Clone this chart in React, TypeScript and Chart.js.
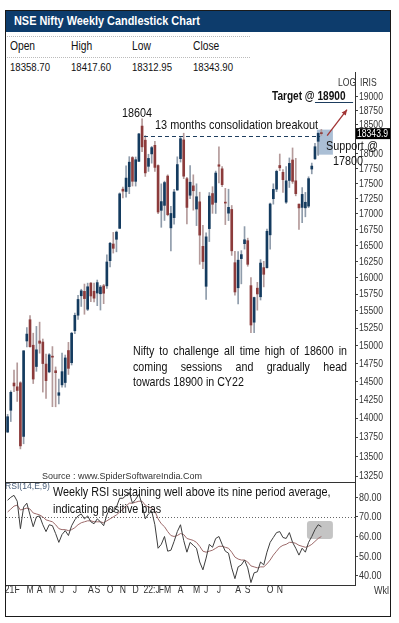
import React, { useEffect, useRef } from "react";
import { Chart, registerables } from "chart.js";
Chart.register(...registerables);

const SANS = "'Liberation Sans', Arial, sans-serif";
const SQUEEZE = 0.82; // Arial-Narrow-like width

// ---- data ----
const weeks = [
  "01-Jan-21","08-Jan-21","15-Jan-21","22-Jan-21","29-Jan-21","05-Feb-21","12-Feb-21","19-Feb-21","26-Feb-21",
  "05-Mar-21","12-Mar-21","19-Mar-21","26-Mar-21","02-Apr-21","09-Apr-21","16-Apr-21","23-Apr-21","30-Apr-21",
  "07-May-21","14-May-21","21-May-21","28-May-21","04-Jun-21","11-Jun-21","18-Jun-21","25-Jun-21","02-Jul-21",
  "09-Jul-21","16-Jul-21","23-Jul-21","30-Jul-21","06-Aug-21","13-Aug-21","20-Aug-21","27-Aug-21","03-Sep-21",
  "10-Sep-21","17-Sep-21","24-Sep-21","01-Oct-21","08-Oct-21","15-Oct-21","22-Oct-21","29-Oct-21","05-Nov-21",
  "12-Nov-21","19-Nov-21","26-Nov-21","03-Dec-21","10-Dec-21","17-Dec-21","24-Dec-21","31-Dec-21","07-Jan-22",
  "14-Jan-22","21-Jan-22","28-Jan-22","04-Feb-22","11-Feb-22","18-Feb-22","25-Feb-22","04-Mar-22","11-Mar-22",
  "18-Mar-22","25-Mar-22","01-Apr-22","08-Apr-22","15-Apr-22","22-Apr-22","29-Apr-22","06-May-22","13-May-22",
  "20-May-22","27-May-22","03-Jun-22","10-Jun-22","17-Jun-22","24-Jun-22","01-Jul-22","08-Jul-22","15-Jul-22",
  "22-Jul-22","29-Jul-22","05-Aug-22","12-Aug-22","19-Aug-22","26-Aug-22","02-Sep-22","09-Sep-22","16-Sep-22",
  "23-Sep-22","30-Sep-22","07-Oct-22","14-Oct-22","21-Oct-22","28-Oct-22","04-Nov-22","11-Nov-22","18-Nov-22",
];
const futureSlots = ["", "", "", "", "", "", "", "", "", ""];

const opens = [
  13815,14104,14474,14422,14477,13758,15064,15371,15003,14703,15064,15049,14737,14628,14837,14644,14306,14449,
  14481,14928,14756,15211,15437,15725,15791,15525,15916,15793,15766,15755,15874,15874,16258,16518,16592,16765,
  17401,17363,17443,17932,17531,17867,18476,18230,17783,17994,18141,17796,17055,17135,17619,16773,16937,17387,
  17913,18235,17575,17301,17456,17076,17193,16481,15867,16761,17329,17183,17809,17741,17183,17009,17069,16227,
  15845,16290,16523,16570,15877,15335,15839,15710,16151,16151,16662,17244,17401,17797,17682,17188,17546,17890,
  17540,17156,17102,17095,17123,17737,17910,18211,18358.7,
];
const highs = [
  14050,14367,14653,14754,14492,14925,15257,15432,15176,15274,15336,15092,14878,14884,14984,14697,14527,14890,
  14864,15044,15189,15469,15733,15823,15901,15915,15925,15915,15962,15882,15897,16350,16543,16701,16722,17340,
  17436,17793,17947,17948,17941,18350,18604,18310,17988,18123,18210,17806,17489,17534,17640,17119,17400,17944,
  18286,18351,17599,17794,17640,17490,17351,16815,16694,17345,17442,17703,18115,17779,17414,17400,17133,16404,
  16400,16414,16793,16610,16000,15707,15927,16275,16248,16752,17172,17490,17719,17992,17726,17777,17925,18096,
  17919,17158,17428,17348,17607,17838,18176,18362,18417.6,
];
const lows = [
  13810,13954,14357,14223,13596,13662,14979,14977,14467,14636,14890,14350,14264,14616,14152,14151,14191,14416,
  14417,14592,14724,15170,15374,15566,15451,15505,15636,15632,15578,15513,15607,15834,16162,16376,16395,16764,
  17255,17269,17327,17453,17452,17865,18033,17613,17697,17836,17696,17000,16782,16891,16966,16410,16833,17383,
  17855,17576,16837,17244,17057,16809,16203,16134,15671,16556,17006,17004,17505,17442,16825,16889,16340,15735,
  15602,15904,16438,16172,15183,15183,15511,15662,15858,16143,16438,17155,17359,17710,17346,17167,17429,17497,
  17291,16748,16856,16950,17098,17656,17900,17969,18312.95,
];
const closes = [
  14018,14347,14434,14372,13635,14924,15163,14982,14529,14938,15031,14744,14507,14867,14834,14617,14341,14631,
  14823,14677,15175,15435,15670,15799,15683,15860,15722,15689,15923,15856,15763,16238,16529,16450,16705,17324,
  17369,17585,17853,17532,17895,18339,18115,17672,17917,18102,17765,17027,17197,17511,16985,17004,17354,17813,
  18256,17617,17102,17516,17375,17276,16658,16245,16630,17287,17153,17670,17784,17476,17172,17103,16411,15782,
  16266,16352,16584,16202,15294,15699,15752,16221,16049,16719,17158,17398,17698,17758,17559,17539,17833,17531,
  17327,17094,17315,17186,17576,17787,18117,18350,18343.9,
];

const rsiValues = [
  78.5,80,81,78,64,75,77,71,65,70,70.5,66,62.5,66,65.5,61.5,57,61,
  63,60.5,65.5,68.5,70.5,71.5,69,70.5,67.5,66.5,69,67.5,65.5,71,74.5,72.5,75,79.5,
  79.5,81,82.5,77,79,81.5,76.5,69,71.5,73,66,54,56,60,52.5,53,57.5,62.5,
  66,58,52,57,55.5,54,47,43,49,56,54.5,59,60,56,52.5,51.5,44,38.5,
  44.5,45.5,48,44,36.5,41.5,42,47,45.5,52,57,59.5,62,62.5,59.5,59,62,57,
  54,50.5,54,52,57,60,63.5,66,65,
];
const rsiAverage = [
  72.5,74,75.5,76,73.5,74,74.5,74,72,71.5,71,70,68.5,68,67.5,66,64,63.5,
  63.5,63,63.5,64.5,66,67,67.5,68,68,67.5,67.5,67.5,67,68,69,70,71,72.5,
  74,75.5,77,77,77.5,78,78,76,75,74.5,73,69,66.5,65,62.5,60.5,60,60.5,
  61.5,61,59,58.5,58,57,55,52.5,52,52.5,53,54,55,55,54.5,54,52,49.5,
  48.5,48,48,47,45,44.5,44,44.5,44.5,46,48,50.5,52.5,54.5,55.5,56,57,57,
  56.5,55.5,55,54.5,55,56,57.5,59,60,
];

const priceTicks = [19000,18750,18500,18000,17750,17500,17250,17000,16750,16500,16250,16000,15750,15500,15250,15000,14750,14500,14250,14000,13750,13500,13250];
const rsiTicks = [40, 50, 60, 70, 80];
const monthTickIdx = [1, 3, 7, 10, 14, 17, 21, 26, 28, 32, 36, 40, 45, 48, 50, 54, 59, 62, 66, 72, 75, 82, 85];
const monthTickText = ["21:", "F", "M", "A", "M", "J", "J", "A", "S", "O", "N", "D", "22:J", "F", "M", "A", "M", "J", "J", "A", "S", "O", "N"];

const lastPrice = 18343.9;
const breakoutLevel = 18310;
const targetLevel = 18900;
const rsiReference = 70;

// annotation geometry in data units (index / value)
const breakoutSpan = [42.6, 97.6];
const supportBox = { from: 96.6, to: 101.6, top: 18414, bottom: 17981 };
const targetSpan = [96.0, 107.9];
const arrowFrom = [99.8, 18309];
const arrowTo = [106.0, 18766];
const rsiBox = { from: 93.5, to: 101.6, top: 67.9, bottom: 58.7 };

const UP_BODY = "#143b5f";
const DOWN_BODY = "#8c3b3b";
const UP_WICK = "#8f9cab";
const DOWN_WICK = "#b49a9a";

function drawSqueezed(ctx: any, text: string, x: number, y: number, size: number, color: string, align: string) {
  ctx.save();
  ctx.font = size + "px " + SANS;
  ctx.fillStyle = color;
  ctx.textBaseline = "middle";
  const w = ctx.measureText(text).width * SQUEEZE;
  const startX = align === "center" ? x - w / 2 : x;
  ctx.translate(startX, y);
  ctx.scale(SQUEEZE, 1);
  ctx.textAlign = "left";
  ctx.fillText(text, 0, 0);
  ctx.restore();
}

function yLabelPlugin(id: string, fmt: (v: number) => string, size: number) {
  return {
    id,
    afterDraw(chart: any) {
      const axis = chart.scales.y;
      axis.ticks.forEach((t: any) => {
        const py = axis.getPixelForValue(t.value);
        drawSqueezed(chart.ctx, fmt(t.value), axis.left + 4, py + 0.5, size, "#333", "left");
      });
    },
  };
}

export default function App() {
  const priceRef = useRef<HTMLCanvasElement>(null);
  const rsiRef = useRef<HTMLCanvasElement>(null);

  useEffect(() => {
    const labels = weeks.concat(futureSlots);
    const isUp = closes.map((c, i) => c >= opens[i]);

    const priceAnno = {
      id: "priceAnno",
      beforeDatasetsDraw(chart: any) {
        const { ctx, scales } = chart;
        const x = scales.x, y = scales.y;
        ctx.save();
        ctx.fillStyle = "rgba(150,175,203,0.8)";
        const x1 = x.getPixelForValue(supportBox.from);
        const x2 = x.getPixelForValue(supportBox.to);
        const y1 = y.getPixelForValue(supportBox.top);
        const y2 = y.getPixelForValue(supportBox.bottom);
        ctx.fillRect(x1, y1, x2 - x1, y2 - y1);
        ctx.restore();
      },
      afterDatasetsDraw(chart: any) {
        const { ctx, scales } = chart;
        const x = scales.x, y = scales.y;
        ctx.save();
        ctx.strokeStyle = "#1d3d5e";
        ctx.lineWidth = 1;
        ctx.setLineDash([4, 3]);
        const by = Math.round(y.getPixelForValue(breakoutLevel)) + 0.5;
        ctx.beginPath();
        ctx.moveTo(x.getPixelForValue(breakoutSpan[0]), by);
        ctx.lineTo(x.getPixelForValue(breakoutSpan[1]), by);
        ctx.stroke();
        ctx.setLineDash([]);
        const ty = Math.round(y.getPixelForValue(targetLevel)) + 0.5;
        ctx.beginPath();
        ctx.moveTo(x.getPixelForValue(targetSpan[0]), ty);
        ctx.lineTo(x.getPixelForValue(targetSpan[1]), ty);
        ctx.stroke();
        const ax1 = x.getPixelForValue(arrowFrom[0]);
        const ay1 = y.getPixelForValue(arrowFrom[1]);
        const ax2 = x.getPixelForValue(arrowTo[0]);
        const ay2 = y.getPixelForValue(arrowTo[1]);
        ctx.strokeStyle = "#a23434";
        ctx.fillStyle = "#a23434";
        ctx.lineWidth = 1.3;
        ctx.beginPath();
        ctx.moveTo(ax1, ay1);
        ctx.lineTo(ax2, ay2);
        ctx.stroke();
        const ang = Math.atan2(ay2 - ay1, ax2 - ax1);
        const hl = 6;
        ctx.beginPath();
        ctx.moveTo(ax2, ay2);
        ctx.lineTo(ax2 - hl * Math.cos(ang - 0.45), ay2 - hl * Math.sin(ang - 0.45));
        ctx.lineTo(ax2 - hl * Math.cos(ang + 0.45), ay2 - hl * Math.sin(ang + 0.45));
        ctx.closePath();
        ctx.fill();
        ctx.restore();
      },
      afterDraw(chart: any) {
        const { ctx, scales, chartArea } = chart;
        const py = scales.y.getPixelForValue(lastPrice);
        ctx.save();
        ctx.fillStyle = "#000";
        ctx.fillRect(chartArea.right + 1, py - 5.5, 34, 11);
        ctx.restore();
        drawSqueezed(ctx, String(lastPrice), chartArea.right + 2, py + 0.5, 10.5, "#fff", "left");
      },
    };

    const price = new Chart(priceRef.current as HTMLCanvasElement, {
      type: "bar",
      data: {
        labels,
        datasets: [
          {
            data: lows.map((l, i) => [l, highs[i]]),
            backgroundColor: isUp.map((u) => (u ? UP_WICK : DOWN_WICK)),
            barThickness: 1,
            grouped: false,
            order: 2,
            borderWidth: 0,
          } as any,
          {
            data: opens.map((o, i) => [o, closes[i]]),
            backgroundColor: isUp.map((u) => (u ? UP_BODY : DOWN_BODY)),
            barThickness: 2,
            grouped: false,
            order: 1,
            minBarLength: 1,
            borderWidth: 0,
          } as any,
        ],
      },
      options: {
        animation: false,
        responsive: false,
        maintainAspectRatio: false,
        layout: { padding: { left: 1, right: 0, top: 0, bottom: 0 } },
        plugins: { legend: { display: false }, tooltip: { enabled: false } },
        scales: {
          x: { display: false, offset: true },
          y: {
            type: "logarithmic",
            position: "right",
            min: 13175,
            max: 19450,
            afterBuildTicks: (axis: any) => {
              axis.ticks = priceTicks.map((v) => ({ value: v }));
            },
            afterFit: (axis: any) => {
              axis.width = 36;
              axis.paddingTop = 0;
              axis.paddingBottom = 0;
            },
            ticks: { display: false, autoSkip: false },
            grid: { drawOnChartArea: false, drawTicks: true, tickLength: 3, color: "#444" },
            border: { display: true, color: "#333", width: 1 },
          } as any,
        },
      },
      plugins: [yLabelPlugin("priceLabels", (v) => String(v), 10.5), priceAnno],
    } as any);

    const rsiAnno = {
      id: "rsiAnno",
      beforeDatasetsDraw(chart: any) {
        const { ctx, scales, chartArea } = chart;
        const x = scales.x, y = scales.y;
        ctx.save();
        const x1 = x.getPixelForValue(rsiBox.from);
        const x2 = x.getPixelForValue(rsiBox.to);
        const y1 = y.getPixelForValue(rsiBox.top);
        const y2 = y.getPixelForValue(rsiBox.bottom);
        ctx.fillStyle = "#c4c4c4";
        ctx.beginPath();
        (ctx as any).roundRect(x1, y1, x2 - x1, y2 - y1, 3);
        ctx.fill();
        const ry = Math.round(y.getPixelForValue(rsiReference)) + 0.5;
        ctx.strokeStyle = "#666";
        ctx.lineWidth = 1;
        ctx.setLineDash([1, 2]);
        ctx.beginPath();
        ctx.moveTo(chartArea.left, ry);
        ctx.lineTo(chartArea.right, ry);
        ctx.stroke();
        ctx.setLineDash([]);
        ctx.strokeStyle = "#333";
        ctx.beginPath();
        ctx.moveTo(chartArea.left - 1, chartArea.top + 0.5);
        ctx.lineTo(chartArea.right, chartArea.top + 0.5);
        ctx.stroke();
        ctx.restore();
      },
      afterDraw(chart: any) {
        const x = chart.scales.x;
        monthTickIdx.forEach((idx, k) => {
          drawSqueezed(chart.ctx, monthTickText[k], x.getPixelForValue(idx), x.top + 5.5, 10.5, "#333", "center");
        });
      },
    };

    const rsi = new Chart(rsiRef.current as HTMLCanvasElement, {
      type: "line",
      data: {
        labels,
        datasets: [
          { data: rsiValues, borderColor: "#3d3d3d", borderWidth: 1, pointRadius: 0, tension: 0, order: 1 },
          { data: rsiAverage, borderColor: "#9c6a6a", borderWidth: 1, pointRadius: 0, tension: 0, order: 2 },
        ],
      },
      options: {
        animation: false,
        responsive: false,
        maintainAspectRatio: false,
        layout: { padding: { left: 1, right: 0, top: 0, bottom: 0 } },
        plugins: { legend: { display: false }, tooltip: { enabled: false } },
        scales: {
          x: {
            offset: true,
            afterFit: (axis: any) => {
              axis.height = 10;
              axis.paddingLeft = 0;
              axis.paddingRight = 0;
            },
            ticks: { display: false, autoSkip: false, maxRotation: 0, minRotation: 0 },
            grid: { display: false, drawTicks: false },
            border: { display: true, color: "#333", width: 1 },
          } as any,
          y: {
            position: "right",
            min: 35.26,
            max: 87.8,
            afterBuildTicks: (axis: any) => {
              axis.ticks = rsiTicks.map((v) => ({ value: v }));
            },
            afterFit: (axis: any) => {
              axis.width = 36;
              axis.paddingTop = 0;
              axis.paddingBottom = 0;
            },
            ticks: { display: false, autoSkip: false },
            grid: { drawOnChartArea: false, drawTicks: true, tickLength: 3, color: "#444" },
            border: { display: true, color: "#333", width: 1 },
          } as any,
        },
      },
      plugins: [yLabelPlugin("rsiLabels", (v) => v.toFixed(2), 11), rsiAnno],
    } as any);

    return () => {
      price.destroy();
      rsi.destroy();
    };
  }, []);

  const nt = (left: number, cy: number, size: number, s: string, extra: any = {}, squeeze = SQUEEZE) => (
    <div
      style={{
        position: "absolute",
        left,
        top: cy - 8,
        height: 16,
        lineHeight: "16px",
        fontSize: size,
        whiteSpace: "nowrap",
        color: "#111",
        transform: `scaleX(${squeeze})`,
        transformOrigin: "0 50%",
        ...extra,
      }}
    >
      {s}
    </div>
  );

  return (
    <div
      style={{
        position: "absolute",
        left: 0,
        top: 0,
        width: 399,
        height: 623,
        background: "#fff",
        fontFamily: SANS,
        overflow: "hidden",
      }}
    >
      <div style={{ position: "absolute", left: 5, top: 10, width: 386, height: 22, background: "#0d3c6c" }} />
      {nt(14, 21, 13.3, "NSE Nifty Weekly Candlestick Chart", { color: "#fff", fontWeight: "bold" })}

      <div style={{ position: "absolute", left: 5, top: 36, width: 245, borderTop: "1px dotted #bbb" }} />
      <div style={{ position: "absolute", left: 5, top: 57, width: 245, borderTop: "1px dotted #bbb" }} />
      {nt(10, 46, 12.5, "Open")}
      {nt(71, 46, 12.5, "High")}
      {nt(132, 46, 12.5, "Low")}
      {nt(193, 46, 12.5, "Close")}
      {nt(10, 67, 11.7, "18358.70")}
      {nt(71, 67, 11.7, "18417.60")}
      {nt(132, 67, 11.7, "18312.95")}
      {nt(193, 67, 11.7, "18343.90")}

      <canvas ref={priceRef} width={386} height={410} style={{ position: "absolute", left: 5, top: 72 }} />
      <canvas ref={rsiRef} width={386} height={113} style={{ position: "absolute", left: 5, top: 482 }} />

      {nt(338, 82, 10.5, "LOG", { color: "#333" })}
      {nt(360, 82, 10.5, "IRIS", { color: "#333" })}

      {nt(122, 113, 13.2, "18604")}
      {nt(155, 125, 13.3, "13 months consolidation breakout")}
      {nt(272, 96, 12.3, "Target @ 18900", { fontWeight: "bold" })}
      {nt(326, 146, 13.2, "Support @")}
      {nt(333, 161, 13.2, "17800")}

      <div
        style={{
          position: "absolute",
          left: 133,
          top: 343,
          width: 214 / SQUEEZE,
          fontSize: 13,
          lineHeight: "15.5px",
          color: "#111",
          transform: `scaleX(${SQUEEZE})`,
          transformOrigin: "0 0",
        }}
      >
        <div style={{ textAlign: "justify", textAlignLast: "justify" } as any}>Nifty to challenge all time high of 18600 in</div>
        <div style={{ textAlign: "justify", textAlignLast: "justify" } as any}>coming sessions and gradually head</div>
        <div>towards 18900 in CY22</div>
      </div>

      {nt(42, 476, 9, "Source : www.SpiderSoftwareIndia.Com", { color: "#333" }, 1)}
      {nt(5, 486, 8.6, "RSI(14,E,9)", { color: "#4b5f7a" }, 1)}
      {nt(53, 492, 13.2, "Weekly RSI sustaining well above its nine period average,")}
      {nt(53, 509, 13.2, "indicating positive bias")}
      {nt(374, 590, 11, "Wkl", { color: "#333" })}

      <div
        style={{
          position: "absolute",
          left: 5,
          top: 10,
          width: 386,
          height: 607,
          border: "1px solid #1a1a1a",
          boxSizing: "border-box",
          pointerEvents: "none",
        }}
      />
    </div>
  );
}
